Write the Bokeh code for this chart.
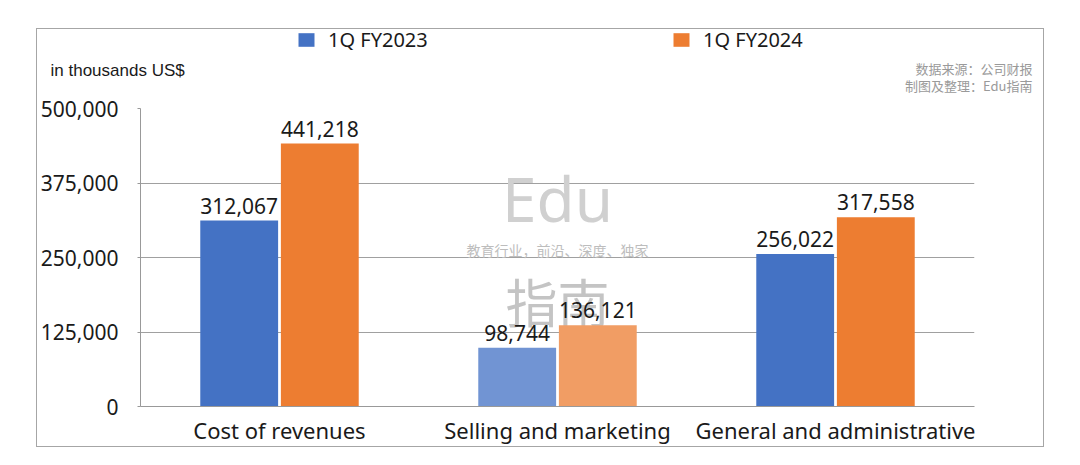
from bokeh.plotting import figure
from bokeh.models import (ColumnDataSource, FactorRange, Range1d, FixedTicker,
                          NumeralTickFormatter, Legend, LegendItem, Label)
from bokeh.transform import dodge
from bokeh.core.properties import value
from bokeh.embed import file_html
from bokeh.resources import INLINE

categories = ["Cost of revenues", "Selling and marketing", "General and administrative"]
fy2023 = [312067, 98744, 256022]
fy2024 = [441218, 136121, 317558]
series_names = ["1Q FY2023", "1Q FY2024"]
y_ticks = [0, 125000, 250000, 375000, 500000]
unit_note = "in thousands US$"
source_lines = ["数据来源：公司财报", "制图及整理：Edu指南"]
watermark = ["Edu", "教育行业，前沿、深度、独家", "指南"]

# styles (middle bars appear lighter under the watermark)
series_cols = ["#4472C4", "#ED7D31"]
blue_cols = ["#4472C4", "#7194D3", "#4472C4"]
orange_cols = ["#ED7D31", "#F19D64", "#ED7D31"]

FONT = "Noto Sans"
TXT = "#1a1a1a"
BORDER = "1px solid #a6a6a6"
W = 1008
HDR_W, HDR_H = 1006, 65   # inner drawing size of the header strip

# ---------------- header strip: legend and notes ----------------
hdr = figure(width=W, height=HDR_H + 1, x_range=Range1d(0, HDR_W), y_range=Range1d(0, HDR_H),
             x_axis_type=None, y_axis_type=None, output_backend="svg",
             toolbar_location=None, min_border=0)
hdr.margin = (28, 0, 0, 36)
hdr.styles = {"border-top": BORDER, "border-left": BORDER, "border-right": BORDER}
hdr.outline_line_color = None
hdr.grid.visible = False
hdr.background_fill_color = "white"
hdr.border_fill_color = "white"

# legend proxies (kept outside the visible range)
proxies = [hdr.vbar(x=[-100], top=[-100], width=1, fill_color=c, line_color=None)
           for c in series_cols]
for r, name, xloc in zip(proxies, series_names, [259, 634]):
    hdr.add_layout(Legend(items=[LegendItem(label=name, renderers=[r])], location=(xloc, 42),
                          orientation="horizontal", padding=0, margin=0,
                          border_line_color=None, background_fill_alpha=0,
                          glyph_width=20, glyph_height=17, label_height=17,
                          label_standoff=12, label_text_font=FONT,
                          label_text_font_size="20px", label_text_color=TXT))

hdr.add_layout(Label(x=13, y=25, text=unit_note, text_align="left", text_baseline="middle",
                     text_font="Liberation Sans", text_font_size="17px", text_color=TXT))
for t, yy in zip(source_lines, [27, 10]):
    hdr.add_layout(Label(x=993, y=yy, text=t, text_align="right", text_baseline="middle",
                         text_font="Noto Sans CJK SC", text_font_size="13px",
                         text_color="#9a9a9a"))

# ---------------- main chart ----------------
src = ColumnDataSource(dict(
    cat=categories, a=fy2023, b=fy2024,
    a_lbl=[f"{v:,}" for v in fy2023], b_lbl=[f"{v:,}" for v in fy2024],
    a_col=blue_cols, b_col=orange_cols,
))

p = figure(x_range=FactorRange(*categories), y_range=Range1d(0, 500000),
           width=W, height=353, output_backend="svg", toolbar_location=None,
           min_border_left=103, min_border_right=71, min_border_top=14,
           min_border_bottom=40)
p.margin = (0, 0, 0, 36)
p.styles = {"border-bottom": BORDER, "border-left": BORDER, "border-right": BORDER}
p.outline_line_color = None
p.background_fill_color = "white"
p.border_fill_color = "white"

wm_y = [350000, 263400, 177850]
wm_size = ["62px", "14px", "52px"]
wm_font = [FONT, "Noto Sans CJK SC", "Noto Sans CJK SC"]
wm_col = ["#d0d0d0", "#bdbdbd", "#c4c4c4"]
for t, yy, fs, ff, cc in zip(watermark, wm_y, wm_size, wm_font, wm_col):
    p.add_layout(Label(x=1.5, y=yy, text=t, text_align="center", text_baseline="middle",
                       text_font_size=fs, text_font=ff, text_color=cc, level="underlay"))

p.vbar(x=dodge("cat", -0.145, range=p.x_range), top="a", width=0.28, source=src,
       fill_color="a_col", line_color=None)
p.vbar(x=dodge("cat", 0.145, range=p.x_range), top="b", width=0.28, source=src,
       fill_color="b_col", line_color=None)

t1 = p.text(x=dodge("cat", -0.145, range=p.x_range), y="a", text="a_lbl", source=src,
            text_align="center", text_baseline="alphabetic", y_offset=-15,
            text_font=value(FONT), text_font_size="21px", text_color=TXT)
t2 = p.text(x=dodge("cat", 0.145, range=p.x_range), y="b", text="b_lbl", source=src,
            text_align="center", text_baseline="alphabetic", y_offset=-15,
            text_font=value(FONT), text_font_size="21px", text_color=TXT)
t1.level = "overlay"
t2.level = "overlay"

p.yaxis.ticker = FixedTicker(ticks=y_ticks)
p.yaxis.formatter = NumeralTickFormatter(format="0,0")
p.yaxis.major_label_text_font = FONT
p.yaxis.major_label_text_font_size = "21px"
p.yaxis.major_label_text_color = TXT
p.yaxis.major_tick_out = 3
p.yaxis.major_tick_in = 0
p.yaxis.minor_tick_line_color = None
p.yaxis.major_tick_line_color = "#999999"
p.yaxis.axis_line_color = "#999999"
p.yaxis.major_label_standoff = 19

p.xaxis.major_tick_line_color = None
p.xaxis.major_tick_out = 0
p.xaxis.major_tick_in = 0
p.xaxis.minor_tick_line_color = None
p.xaxis.axis_line_color = "#999999"
p.xaxis.major_label_text_font = FONT
p.xaxis.major_label_text_font_size = "22px"
p.xaxis.major_label_text_color = TXT
p.xaxis.major_label_standoff = 8

p.xgrid.grid_line_color = None
p.ygrid.grid_line_color = "#a0a0a0"

open("out.html", "w").write(file_html([hdr, p], INLINE))
